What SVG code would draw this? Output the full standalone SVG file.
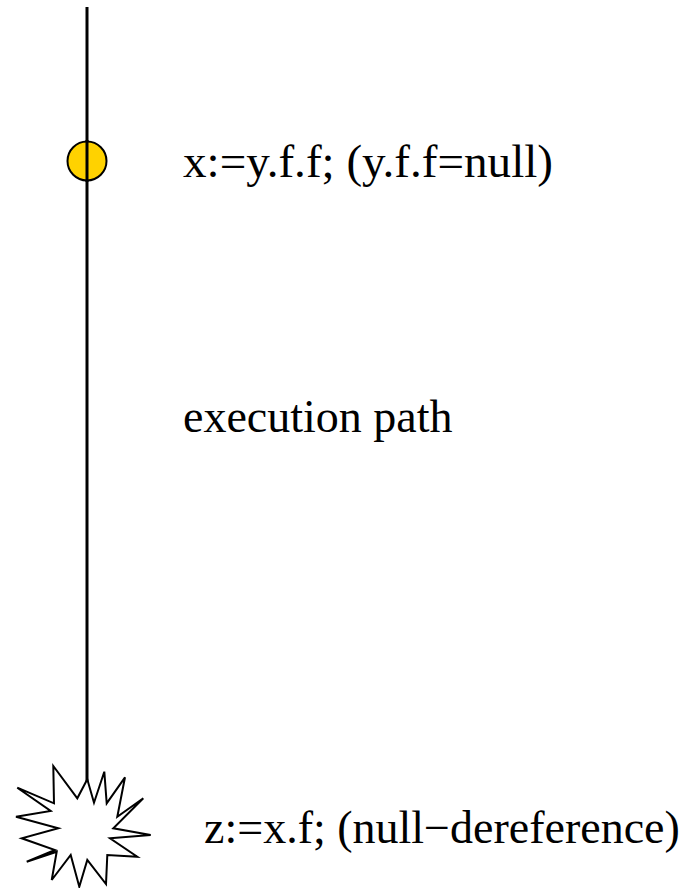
<svg xmlns="http://www.w3.org/2000/svg" width="686" height="888" viewBox="0 0 686 888">
<style>
.t{font-family:"Liberation Serif","Times New Roman",serif;font-size:46px;fill:#000}
</style>
<rect width="686" height="888" fill="#fff"/>
<g id="connectors">
<line x1="87" y1="7" x2="87" y2="782" stroke="#000" stroke-width="3"/>
</g>
<g id="node-assign">
<circle cx="87" cy="161" r="19.5" fill="#FFD200" stroke="#000" stroke-width="2"/>
<line x1="87" y1="140" x2="87" y2="182" stroke="#000" stroke-width="3"/>
<text class="t" x="183" y="177" textLength="370" lengthAdjust="spacingAndGlyphs">x:=y.f.f; (y.f.f=null)</text>
</g>
<g id="label-path">
<text class="t" x="183" y="432">execution path</text>
</g>
<g id="node-crash">
<polygon points="87.3,779.3 77.3,798.3 53.3,766 54,803.3 17.3,787.7 50.7,811 16,816.7 58.3,828.3 21.7,838.3 55,850 26.7,861.7 56.7,851.7 51.7,880 70.7,855 79.3,886.7 87.3,860 106,884 107.3,855 137.3,856.7 110,838.3 150.7,835 113.3,828.3 143.3,798.3 117.3,816.7 125,777.3 106.7,803.3 104.3,771.7 94,802.7" fill="#fff" stroke="#000" stroke-width="2" stroke-linejoin="miter"/>
<text class="t" x="204" y="843">z:=x.f; (null−dereference)</text>
</g>
</svg>
